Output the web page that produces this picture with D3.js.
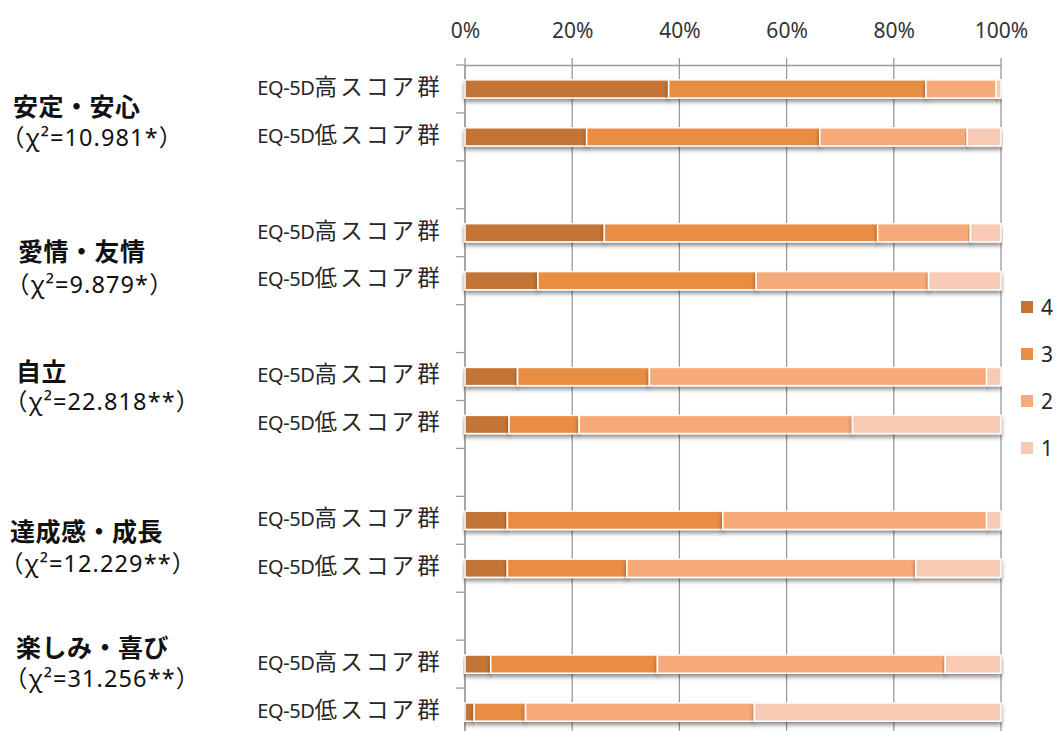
<!DOCTYPE html>
<html>
<head>
<meta charset="utf-8">
<script src="https://cdn.jsdelivr.net/npm/d3@7"></script>
<style>
  body { margin: 0; background: #ffffff; }
  svg { display: block; }
  text { font-family: "Noto Sans", "Noto Sans CJK JP", sans-serif; }
</style>
</head>
<body>
<svg id="chart" width="1059" height="731"></svg>
<script>
// Value categories (good-to-poor scale), groups and row labels
const groups = ["安定・安心", "愛情・友情", "自立", "達成感・成長", "楽しみ・喜び"];
const chiLabels = ["（χ²=10.981*）", "（χ²=9.879*）", "（χ²=22.818**）", "（χ²=12.229**）", "（χ²=31.256**）"];
const rowPrefix = "EQ-5D";
const rowLabels = ["高スコア群", "低スコア群"];
const scoreKeys = ["4", "3", "2", "1"];

// Percentages per row: high group, low group for each value category in order
const score4 = [38.0, 22.7, 26.0, 13.6, 9.8, 8.2, 7.9, 7.9, 4.8, 1.7];
const score3 = [48.0, 43.5, 51.0, 40.7, 24.6, 13.1, 40.2, 22.3, 31.1, 9.6];
const score2 = [13.1, 27.5, 17.3, 32.2, 62.9, 51.0, 49.2, 53.9, 53.7, 42.7];
const score1 = [0.9, 6.3, 5.7, 13.5, 2.7, 27.7, 2.7, 15.9, 10.4, 46.0];

const tickValues = [0, 20, 40, 60, 80, 100];

// Build rows and the category list (with a spacer row between groups)
const seriesByKey = { "4": score4, "3": score3, "2": score2, "1": score1 };
const rows = [];
const categories = [];
groups.forEach((g, gi) => {
  rowLabels.forEach((r, ri) => {
    const i = gi * 2 + ri;
    const row = { id: `${gi}-${ri}`, group: g, label: r };
    scoreKeys.forEach(k => { row[k] = seriesByKey[k][i]; });
    rows.push(row);
    categories.push(row.id);
  });
  if (gi < groups.length - 1) categories.push(`gap-${gi}`);
});

const svg = d3.select("#chart");
const plotLeft = 465, plotRight = 1001, plotTop = 65, step = 47.93;
const plotBottom = plotTop + step * categories.length;

const x = d3.scaleLinear().domain([0, 100]).range([plotLeft, plotRight]);
const y = d3.scaleBand().domain(categories).range([plotTop, plotBottom])
  .paddingInner(0.62).paddingOuter(0.31);
const color = d3.scaleOrdinal().domain(scoreKeys)
  .range(["#C47535", "#E88D43", "#F6AA79", "#F8CAB3"]);

// Drop shadow for bar segments
const defs = svg.append("defs");
const f = defs.append("filter").attr("id", "shadow")
  .attr("x", "-5%").attr("y", "-40%").attr("width", "110%").attr("height", "200%");
f.append("feDropShadow").attr("dx", 0).attr("dy", 3).attr("stdDeviation", 2)
  .attr("flood-color", "#000").attr("flood-opacity", 0.45);

// Vertical gridlines with tick marks above the axis line
const gridColor = "#9a9a9a";
svg.append("g").selectAll("line").data(tickValues).join("line")
  .attr("x1", d => x(d)).attr("x2", d => x(d))
  .attr("y1", plotTop - 7).attr("y2", plotBottom)
  .attr("stroke", gridColor).attr("stroke-width", 1.3);

// Top value axis
const xAxis = d3.axisTop(x).tickValues(tickValues).tickFormat(d => d + "%").tickSize(0).tickPadding(0);
const gx = svg.append("g").attr("transform", `translate(0,${plotTop})`).call(xAxis);
gx.select(".domain").attr("stroke", gridColor).attr("stroke-width", 1.3);
gx.selectAll("text").attr("y", -27).attr("dy", 0)
  .attr("font-size", 21).attr("font-family", "\"Noto Sans\", sans-serif").attr("fill", "#333");

// Left category axis with ticks at band boundaries
const boundaries = categories.map(c => y(c) - (y.step() - y.bandwidth()) / 2);
boundaries.push(plotBottom);
svg.append("line").attr("x1", plotLeft).attr("x2", plotLeft)
  .attr("y1", plotTop).attr("y2", plotBottom)
  .attr("stroke", gridColor).attr("stroke-width", 1.3);
svg.append("g").selectAll("line").data(boundaries).join("line")
  .attr("x1", plotLeft - 9).attr("x2", plotLeft)
  .attr("y1", d => d).attr("y2", d => d)
  .attr("stroke", gridColor).attr("stroke-width", 1.3);

// Stacked bars
const stacked = d3.stack().keys(scoreKeys)(rows);
svg.append("g").selectAll("g").data(stacked).join("g")
  .attr("fill", d => color(d.key))
  .selectAll("rect").data(d => d).join("rect")
  .attr("x", d => x(d[0]))
  .attr("width", d => x(d[1]) - x(d[0]))
  .attr("y", d => y(d.data.id))
  .attr("height", y.bandwidth())
  .attr("stroke", "#ffffff").attr("stroke-width", 1.5)
  .attr("filter", "url(#shadow)");

// Row labels: Latin prefix set tight, Japanese part slightly larger and spaced
const rowText = svg.append("g").selectAll("text").data(rows).join("text")
  .attr("x", 443).attr("y", d => y(d.id) + y.bandwidth() / 2)
  .attr("dy", "0.36em").attr("text-anchor", "end")
  .attr("fill", "#262626");
rowText.append("tspan").attr("font-size", 20).attr("letter-spacing", "-0.4px").text(rowPrefix);
rowText.append("tspan").attr("font-size", 22.5).attr("letter-spacing", "3.2px").text(d => d.label);

// Group titles and chi-square results
const titleLayout = [
  { x: 13, ty: 116, cy: 146 },
  { x: 18, ty: 261, cy: 293 },
  { x: 16, ty: 381, cy: 410 },
  { x: 10, ty: 541, cy: 572 },
  { x: 16, ty: 657, cy: 687 }
];
const titles = svg.append("g");
groups.forEach((g, i) => {
  const L = titleLayout[i];
  titles.append("text").attr("x", L.x).attr("y", L.ty)
    .attr("font-size", 25).attr("font-weight", 700).attr("letter-spacing", "0.5px")
    .attr("fill", "#111").text(g);
  titles.append("text").attr("x", Math.max(0, L.x - 12)).attr("y", L.cy)
    .attr("font-size", 23.5).attr("letter-spacing", "1.1px")
    .attr("fill", "#111").text(chiLabels[i]);
});

// Legend
const legend = svg.append("g").selectAll("g").data(scoreKeys).join("g")
  .attr("transform", (d, i) => `translate(1021,${307 + i * 47})`);
legend.append("rect").attr("x", 0).attr("y", -6).attr("width", 12).attr("height", 12)
  .attr("fill", d => color(d));
legend.append("text").attr("x", 20).attr("y", 0).attr("dy", "0.36em")
  .attr("font-size", 21).attr("fill", "#262626").text(d => d);
</script>
</body>
</html>
